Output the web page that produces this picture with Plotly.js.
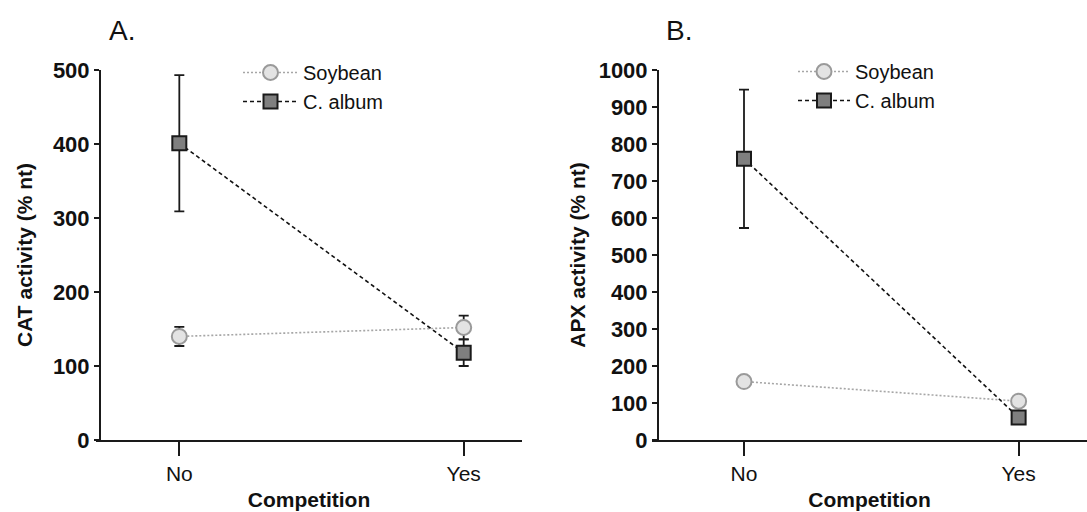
<!DOCTYPE html>
<html>
<head>
<meta charset="utf-8">
<script src="https://cdn.plot.ly/plotly-3.0.1.min.js"></script>
<style>html,body{margin:0;padding:0;background:#fff;}#chart{width:1087px;height:512px;}</style>
</head>
<body>
<div id="chart"></div>
<script>
// ---- data ----
const competition = ["No", "Yes"];
const seriesNames = ["Soybean", "C. album"];

// Panel A: CAT activity (% nt)
const catSoybean = [140, 152];
const catSoybeanErr = [13, 16];
const catAlbum = [401, 118];
const catAlbumErr = [92, 18];

// Panel B: APX activity (% nt)
const apxSoybean = [158, 105];
const apxSoybeanErr = [12, 10];
const apxAlbum = [760, 61];
const apxAlbumErr = [187, 8];

const panelLabels = ["A.", "B."];
const yTitles = ["CAT activity (% nt)", "APX activity (% nt)"];
const xTitle = "Competition";

// ---- styling ----
const FONT = "Liberation Sans, Arial, sans-serif";
const AXC = "#1a1a1a";
const TXT = "#111111";

function soy(y, err, xa, ya, lg) {
  return {
    type: "scatter", mode: "lines+markers", name: seriesNames[0],
    x: competition, y: y, xaxis: xa, yaxis: ya, legend: lg,
    legendgroup: lg + "s",
    line: {color: "#a6a6a6", width: 1.6, dash: "2px,2px"},
    marker: {symbol: "circle", size: 15, color: "#e3e3e3", line: {color: "#9a9a9a", width: 2}},
    error_y: {type: "data", array: err, visible: true, color: AXC, thickness: 1.8, width: 5},
    cliponaxis: false
  };
}
function alb(y, err, xa, ya, lg) {
  return {
    type: "scatter", mode: "lines+markers", name: seriesNames[1],
    x: competition, y: y, xaxis: xa, yaxis: ya, legend: lg,
    legendgroup: lg + "a",
    line: {color: "#111111", width: 1.6, dash: "4px,3px"},
    marker: {symbol: "square", size: 14, color: "#7f7f7f", line: {color: "#1a1a1a", width: 2}},
    error_y: {type: "data", array: err, visible: true, color: AXC, thickness: 1.8, width: 5},
    cliponaxis: false
  };
}

const data = [
  soy(catSoybean, catSoybeanErr, "x", "y", "legend"),
  alb(catAlbum, catAlbumErr, "x", "y", "legend"),
  soy(apxSoybean, apxSoybeanErr, "x2", "y2", "legend2"),
  alb(apxAlbum, apxAlbumErr, "x2", "y2", "legend2")
];

const W = 1087, H = 512;
function xax(d0, d1, r0, r1, anchor) {
  return {
    domain: [d0 / W, d1 / W], type: "category", range: [r0, r1], anchor: anchor,
    showline: true, linecolor: AXC, linewidth: 2, mirror: false,
    showgrid: false, zeroline: false,
    ticks: "outside", ticklen: 14, tickwidth: 2, tickcolor: AXC,
    tickfont: {family: FONT, size: 21, color: TXT},
    title: {text: xTitle, font: {family: FONT, size: 21, color: TXT, weight: "bold"}, standoff: 8},
    automargin: false, fixedrange: true
  };
}
function yax(pos, top, title, standoff) {
  return {
    domain: [(H - 440) / H, (H - 70) / H], range: [0, top], anchor: "free", position: pos / W,
    showline: true, linecolor: AXC, linewidth: 2,
    showgrid: false, zeroline: false,
    ticks: "outside", ticklen: 5, tickwidth: 2, tickcolor: AXC, dtick: 100,
    tickfont: {family: FONT, size: 22, color: TXT, weight: "bold"},
    title: {text: title, font: {family: FONT, size: 21, color: TXT, weight: "bold"}, standoff: standoff},
    automargin: false, fixedrange: true
  };
}

const layout = {
  width: W, height: H,
  margin: {l: 0, r: 0, t: 0, b: 0},
  paper_bgcolor: "#ffffff", plot_bgcolor: "#ffffff",
  showlegend: true,
  font: {family: FONT, color: TXT},
  xaxis: xax(96, 522, -0.293, 1.205, "y"),
  yaxis: yax(100, 500, yTitles[0], 14),
  xaxis2: xax(652, 1087, -0.335, 1.249, "y2"),
  yaxis2: yax(658, 1000, yTitles[1], 6),
  legend: {
    x: 238 / W, y: (H - 53) / H, xanchor: "left", yanchor: "top",
    bgcolor: "rgba(0,0,0,0)", borderwidth: 0, traceorder: "grouped", tracegroupgap: 0,
    font: {family: FONT, size: 20, color: TXT}, itemwidth: 55
  },
  legend2: {
    x: 793 / W, y: (H - 52) / H, xanchor: "left", yanchor: "top",
    bgcolor: "rgba(0,0,0,0)", borderwidth: 0, traceorder: "grouped", tracegroupgap: 0,
    font: {family: FONT, size: 20, color: TXT}, itemwidth: 52
  },
  annotations: [
    {text: panelLabels[0], xref: "paper", yref: "paper", x: 107 / W, y: (H - 30) / H, xanchor: "left", yanchor: "middle", showarrow: false, font: {family: FONT, size: 28, color: TXT}},
    {text: panelLabels[1], xref: "paper", yref: "paper", x: 664 / W, y: (H - 30) / H, xanchor: "left", yanchor: "middle", showarrow: false, font: {family: FONT, size: 28, color: TXT}}
  ]
};

Plotly.newPlot("chart", data, layout, {displayModeBar: false, staticPlot: true});
</script>
</body>
</html>
